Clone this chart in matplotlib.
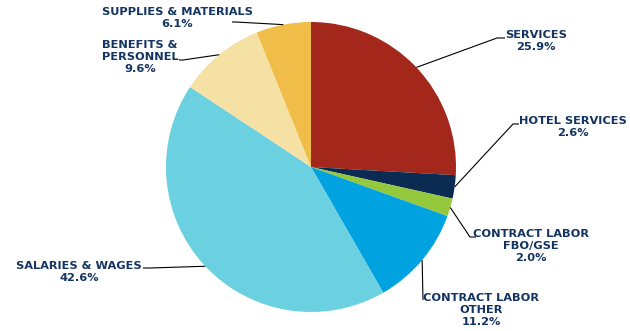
import numpy as np
import matplotlib
matplotlib.use("Agg")
import matplotlib.pyplot as plt

categories = ["SERVICES", "HOTEL SERVICES", "CONTRACT LABOR\nFBO/GSE", "CONTRACT LABOR\nOTHER",
              "SALARIES & WAGES", "BENEFITS &\nPERSONNEL", "SUPPLIES & MATERIALS"]
values = [25.9, 2.6, 2.0, 11.2, 42.6, 9.6, 6.1]
colors = ["#A3271A", "#0B2B52", "#95C93D", "#00A2DF", "#6BD0E0", "#F5E1A4", "#F0BE48"]

W, H = 630, 331
fig = plt.figure(figsize=(W / 100, H / 100), dpi=100)
ax = fig.add_axes([0, 0, 1, 1])

cx, cy, R = 311, H - 167, 145
wedges, _ = ax.pie(values, colors=colors, startangle=90, counterclock=False,
                   center=(cx, cy), radius=R, wedgeprops=dict(linewidth=0), frame=True)
ax.set_xlim(0, W)
ax.set_ylim(0, H)
ax.set_aspect("equal")
ax.axis("off")

# layout: text center (px, y from top), elbow point, end point
layout = [
    ((536, 41), (497, 38), (505, 38)),
    ((573, 127), (513, 124), (519, 124)),
    ((531, 246), (470, 237), (476, 237)),
    ((481, 310), (423, 300), (423, 300)),
    ((79, 272), (150, 268), (143, 268)),
    ((140, 57), (183, 60), (179, 60)),
    ((177, 18), (236, 22), (232, 22)),
]

txtcol = "#143461"
for w, cat, val, (tp, el, en) in zip(wedges, categories, values, layout):
    mid = np.deg2rad((w.theta1 + w.theta2) / 2)
    ex, ey = cx + R * np.cos(mid), cy + R * np.sin(mid)
    ax.plot([ex, el[0], en[0]], [ey, H - el[1], H - en[1]], color="black", lw=0.8,
            solid_capstyle="butt")
    ax.text(tp[0], H - tp[1], f"{cat}\n{val:.1f}%", ha="center", va="center",
            fontsize=8.2, fontweight="bold", color=txtcol, linespacing=1.3,
            family="DejaVu Sans")

fig.savefig("out.png", dpi=100)
